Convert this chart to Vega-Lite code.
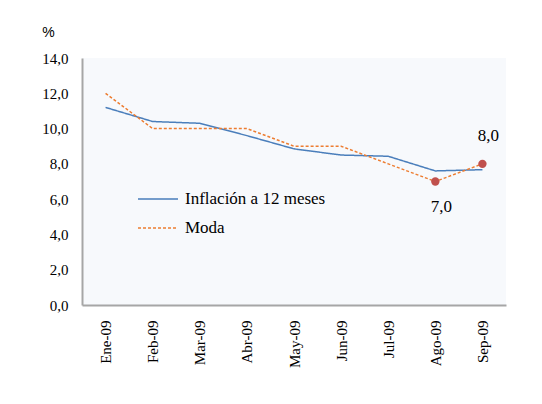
{
  "$schema": "https://vega.github.io/schema/vega-lite/v6.json",
  "width": 424,
  "height": 247,
  "autosize": {"type": "none"},
  "padding": {"left": 82, "top": 58, "right": 36, "bottom": 99},
  "background": "white",
  "config": {
    "view": {"fill": "#f7f9fc", "stroke": null},
    "font": "Liberation Serif",
    "locale": {"number": {"decimal": ",", "thousands": ".", "grouping": [3], "currency": ["", " €"]}}
  },
  "data": {
    "values": [
      {"mes": "Ene-09", "serie": "Inflación a 12 meses", "valor": 11.2},
      {"mes": "Feb-09", "serie": "Inflación a 12 meses", "valor": 10.4},
      {"mes": "Mar-09", "serie": "Inflación a 12 meses", "valor": 10.3},
      {"mes": "Abr-09", "serie": "Inflación a 12 meses", "valor": 9.6},
      {"mes": "May-09", "serie": "Inflación a 12 meses", "valor": 8.85},
      {"mes": "Jun-09", "serie": "Inflación a 12 meses", "valor": 8.5},
      {"mes": "Jul-09", "serie": "Inflación a 12 meses", "valor": 8.43},
      {"mes": "Ago-09", "serie": "Inflación a 12 meses", "valor": 7.6},
      {"mes": "Sep-09", "serie": "Inflación a 12 meses", "valor": 7.67},
      {"mes": "Ene-09", "serie": "Moda", "valor": 12.0},
      {"mes": "Feb-09", "serie": "Moda", "valor": 10.0},
      {"mes": "Mar-09", "serie": "Moda", "valor": 10.0},
      {"mes": "Abr-09", "serie": "Moda", "valor": 10.0},
      {"mes": "May-09", "serie": "Moda", "valor": 9.0},
      {"mes": "Jun-09", "serie": "Moda", "valor": 9.0},
      {"mes": "Jul-09", "serie": "Moda", "valor": 8.0},
      {"mes": "Ago-09", "serie": "Moda", "valor": 7.0},
      {"mes": "Sep-09", "serie": "Moda", "valor": 8.0}
    ]
  },
  "encoding": {
    "x": {
      "field": "mes",
      "type": "ordinal",
      "sort": null,
      "scale": {"type": "point", "padding": 0.5},
      "axis": {
        "title": null,
        "labelAngle": -90,
        "labelFont": "Liberation Serif",
        "labelFontSize": 15,
        "labelColor": "#000000",
        "labelPadding": 15,
        "ticks": false,
        "domainColor": "#a6a6a6",
        "domainWidth": 2,
        "grid": false
      }
    },
    "y": {
      "field": "valor",
      "type": "quantitative",
      "scale": {"domain": [0, 14], "nice": false},
      "axis": {
        "values": [0, 2, 4, 6, 8, 10, 12, 14],
        "format": ".1f",
        "labelFont": "Liberation Serif",
        "labelFontSize": 15,
        "labelColor": "#000000",
        "labelPadding": 14,
        "ticks": false,
        "grid": false,
        "domainColor": "#a6a6a6",
        "domainWidth": 2,
        "title": "%",
        "titleAngle": 0,
        "titleAlign": "center",
        "titleBaseline": "middle",
        "titleX": -34,
        "titleY": -26,
        "titleFont": "Liberation Sans",
        "titleFontSize": 14,
        "titleFontWeight": "normal",
        "titleColor": "#000000"
      }
    }
  },
  "layer": [
    {
      "mark": {"type": "line", "strokeWidth": 1.5},
      "encoding": {
        "color": {
          "field": "serie",
          "type": "nominal",
          "scale": {"domain": ["Inflación a 12 meses", "Moda"], "range": ["#4a7ebb", "#ed7d31"]},
          "legend": {
            "title": null,
            "orient": "none",
            "legendX": 55,
            "legendY": 120,
            "symbolType": "stroke",
            "symbolSize": 1600,
            "symbolStrokeWidth": 1.5,
            "labelFont": "Liberation Serif",
            "labelFontSize": 17,
            "labelColor": "#000000",
            "labelOffset": 6,
            "rowPadding": -15
          }
        },
        "strokeDash": {
          "field": "serie",
          "type": "nominal",
          "scale": {"domain": ["Inflación a 12 meses", "Moda"], "range": [[1, 0], [3, 2]]},
          "legend": null
        }
      }
    },
    {
      "transform": [
        {"filter": "datum.serie == 'Moda' && (datum.mes == 'Ago-09' || datum.mes == 'Sep-09')"}
      ],
      "mark": {"type": "circle", "size": 70, "opacity": 1, "color": "#c0504d"}
    },
    {
      "transform": [
        {"filter": "datum.serie == 'Moda' && datum.mes == 'Ago-09'"}
      ],
      "mark": {"type": "text", "dy": 25, "dx": 6, "fontSize": 17, "font": "Liberation Serif", "color": "#000000"},
      "encoding": {
        "text": {"field": "valor", "type": "quantitative", "format": ".1f"}
      }
    },
    {
      "transform": [
        {"filter": "datum.serie == 'Moda' && datum.mes == 'Sep-09'"}
      ],
      "mark": {"type": "text", "dy": -28, "dx": 6, "fontSize": 17, "font": "Liberation Serif", "color": "#000000"},
      "encoding": {
        "text": {"field": "valor", "type": "quantitative", "format": ".1f"}
      }
    }
  ]
}
